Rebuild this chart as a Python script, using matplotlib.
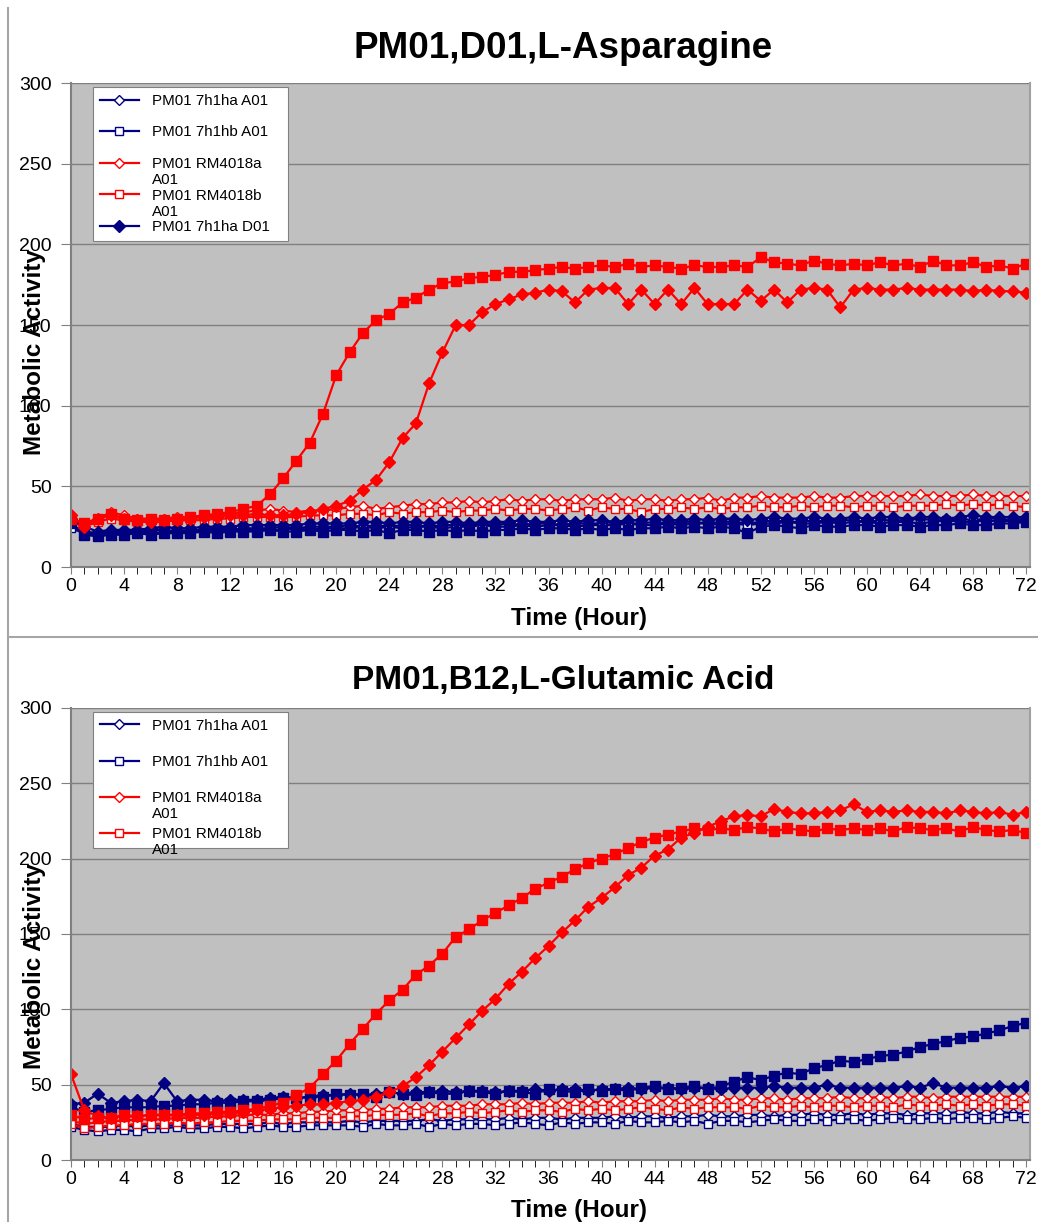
import matplotlib
matplotlib.use("Agg")
import matplotlib.pyplot as plt
from matplotlib.lines import Line2D

plt.rcParams['font.family'] = ['Liberation Sans', 'DejaVu Sans']

# horas de leitura (uma leitura por hora)
horas = list(range(73))

# ---- painel de cima: PM01, D01, L-Asparagine ----
top_7h1ha_A01 = [26, 22, 21, 22, 22, 22, 23, 23, 22, 23,
                 23, 24, 23, 24, 24, 24, 25, 24, 25, 25,
                 25, 26, 25, 26, 25, 26, 26, 25, 26, 26,
                 26, 27, 26, 27, 26, 27, 27, 26, 27, 27,
                 27, 28, 27, 27, 28, 27, 28, 28, 27, 28,
                 28, 27, 28, 29, 28, 28, 29, 28, 29, 29,
                 28, 29, 29, 29, 30, 29, 29, 30, 29, 30,
                 30, 29, 30]
top_7h1hb_A01 = [24, 21, 20, 21, 21, 21, 22, 21, 22, 22,
                 22, 23, 22, 23, 23, 23, 23, 24, 23, 24,
                 24, 24, 25, 24, 25, 24, 25, 25, 24, 25,
                 25, 26, 25, 25, 26, 25, 26, 26, 25, 26,
                 26, 26, 27, 26, 26, 27, 26, 27, 27, 26,
                 27, 26, 27, 27, 28, 27, 27, 28, 27, 28,
                 28, 27, 28, 28, 27, 28, 29, 28, 28, 29,
                 28, 29, 28]
top_RM4018a_A01 = [30, 27, 30, 34, 32, 30, 30, 30, 31, 31,
                   32, 32, 33, 34, 35, 36, 35, 34, 35, 35,
                   36, 37, 38, 36, 37, 38, 39, 39, 40, 40,
                   41, 40, 41, 42, 41, 42, 42, 41, 42, 42,
                   42, 43, 41, 42, 42, 41, 42, 42, 43, 41,
                   43, 43, 44, 43, 43, 43, 44, 43, 43, 44,
                   44, 44, 44, 44, 45, 44, 44, 44, 45, 44,
                   44, 44, 44]
top_RM4018b_A01 = [28, 25, 28, 30, 29, 28, 28, 28, 29, 29,
                   29, 30, 30, 31, 31, 31, 31, 31, 32, 32,
                   32, 33, 33, 32, 34, 33, 34, 34, 35, 34,
                   35, 35, 36, 35, 36, 36, 35, 36, 37, 35,
                   37, 36, 36, 34, 36, 36, 37, 36, 37, 36,
                   37, 37, 38, 37, 37, 38, 37, 38, 38, 37,
                   38, 38, 37, 38, 38, 38, 39, 38, 39, 38,
                   39, 38, 37]
top_7h1ha_D01 = [30, 25, 22, 23, 23, 23, 24, 25, 24, 24,
                 25, 25, 25, 26, 26, 26, 26, 26, 27, 27,
                 27, 27, 28, 28, 27, 28, 28, 27, 28, 28,
                 27, 28, 28, 28, 29, 28, 28, 29, 28, 29,
                 29, 28, 29, 29, 30, 29, 29, 30, 29, 30,
                 30, 29, 30, 31, 30, 30, 31, 30, 30, 31,
                 30, 31, 31, 30, 31, 31, 30, 31, 32, 31,
                 31, 31, 31]
top_7h1hb_D01 = [27, 20, 19, 20, 20, 21, 20, 21, 21, 21,
                 22, 21, 22, 22, 22, 23, 22, 22, 23, 22,
                 23, 23, 22, 23, 21, 23, 23, 22, 23, 22,
                 23, 22, 23, 23, 24, 23, 24, 24, 23, 24,
                 23, 24, 23, 24, 24, 25, 24, 25, 24, 25,
                 24, 21, 25, 26, 25, 24, 26, 25, 25, 26,
                 26, 25, 26, 26, 25, 26, 26, 27, 26, 26,
                 27, 27, 28]
top_RM4018a_D01 = [32, 25, 30, 32, 30, 29, 28, 29, 29, 30,
                   31, 31, 32, 32, 33, 32, 32, 33, 34, 36,
                   38, 41, 48, 54, 65, 80, 89, 114, 133, 150,
                   150, 158, 163, 166, 169, 170, 172, 171, 164, 172,
                   173, 173, 163, 172, 163, 172, 163, 173, 163, 163,
                   163, 172, 165, 172, 164, 172, 173, 172, 161, 172,
                   173, 172, 172, 173, 172, 172, 172, 172, 171, 172,
                   171, 171, 170]
top_RM4018b_D01 = [30, 27, 30, 33, 30, 29, 30, 29, 30, 31,
                   32, 33, 34, 36, 38, 45, 55, 66, 77, 95,
                   119, 133, 145, 153, 157, 164, 167, 172, 176, 177,
                   179, 180, 181, 183, 183, 184, 185, 186, 185, 186,
                   187, 186, 188, 186, 187, 186, 185, 187, 186, 186,
                   187, 186, 192, 189, 188, 187, 190, 188, 187, 188,
                   187, 189, 187, 188, 186, 190, 187, 187, 189, 186,
                   187, 185, 188]

# ---- painel de baixo: PM01, B12, L-Glutamic Acid ----
bot_7h1ha_A01 = [24, 22, 22, 22, 23, 22, 23, 23, 23, 23,
                 23, 24, 24, 24, 24, 25, 24, 25, 25, 25,
                 25, 26, 25, 26, 26, 26, 26, 27, 26, 27,
                 27, 27, 27, 28, 27, 28, 28, 27, 28, 28,
                 28, 29, 28, 29, 29, 28, 29, 29, 30, 29,
                 29, 30, 30, 29, 30, 30, 31, 30, 30, 31,
                 30, 31, 31, 30, 31, 31, 31, 32, 31, 31,
                 32, 31, 31]
bot_7h1hb_A01 = [22, 20, 19, 20, 20, 19, 21, 21, 22, 21,
                 21, 22, 22, 21, 22, 23, 22, 22, 23, 23,
                 23, 23, 22, 24, 23, 23, 24, 22, 24, 23,
                 24, 24, 23, 24, 25, 24, 23, 25, 24, 25,
                 25, 24, 26, 25, 25, 26, 25, 26, 24, 26,
                 26, 25, 26, 27, 26, 26, 27, 26, 27, 27,
                 26, 27, 28, 27, 27, 28, 27, 28, 28, 27,
                 28, 29, 28]
bot_RM4018a_A01 = [26, 24, 25, 26, 26, 27, 27, 27, 28, 28,
                   28, 29, 29, 30, 30, 30, 31, 31, 32, 32,
                   33, 33, 33, 34, 34, 35, 35, 35, 36, 36,
                   36, 37, 37, 37, 38, 37, 38, 38, 38, 39,
                   38, 39, 39, 39, 40, 39, 40, 40, 40, 41,
                   40, 40, 41, 41, 40, 41, 41, 41, 42, 41,
                   41, 42, 41, 42, 42, 41, 42, 42, 42, 42,
                   42, 42, 42]
bot_RM4018b_A01 = [24, 21, 22, 23, 23, 24, 24, 24, 25, 24,
                   25, 25, 26, 26, 26, 27, 27, 27, 28, 28,
                   28, 29, 29, 30, 30, 30, 31, 29, 31, 31,
                   32, 31, 32, 33, 32, 33, 33, 32, 34, 33,
                   34, 33, 34, 35, 34, 33, 35, 34, 35, 35,
                   35, 34, 36, 35, 35, 36, 35, 36, 36, 35,
                   36, 36, 35, 37, 36, 36, 37, 36, 37, 36,
                   37, 37, 36]
bot_7h1ha_B12 = [37, 38, 44, 38, 39, 40, 39, 51, 39, 40,
                 40, 39, 40, 40, 40, 41, 42, 41, 42, 43,
                 43, 44, 43, 44, 45, 44, 45, 45, 46, 45,
                 46, 46, 45, 46, 46, 47, 46, 47, 47, 46,
                 47, 47, 48, 47, 48, 48, 47, 48, 48, 47,
                 48, 48, 48, 49, 48, 48, 48, 50, 48, 48,
                 48, 48, 48, 49, 48, 51, 48, 48, 48, 48,
                 49, 48, 49]
bot_7h1hb_B12 = [35, 32, 33, 34, 35, 35, 35, 36, 36, 37,
                 37, 38, 38, 39, 39, 40, 41, 41, 42, 42,
                 44, 43, 44, 42, 45, 44, 43, 45, 44, 44,
                 46, 45, 44, 46, 45, 44, 47, 46, 45, 47,
                 46, 47, 46, 48, 49, 47, 48, 49, 47, 49,
                 52, 55, 53, 56, 58, 57, 61, 63, 66, 65,
                 67, 69, 70, 72, 75, 77, 79, 81, 82, 84,
                 86, 89, 91]
bot_RM4018a_B12 = [57, 33, 29, 28, 29, 29, 30, 30, 30, 30,
                   30, 31, 31, 32, 33, 34, 35, 36, 37, 37,
                   38, 39, 40, 42, 45, 49, 55, 63, 72, 81,
                   90, 99, 107, 117, 125, 134, 142, 151, 159, 168,
                   174, 181, 189, 194, 202, 206, 214, 217, 221, 225,
                   228, 229, 228, 233, 231, 230, 230, 231, 232, 236,
                   231, 232, 231, 232, 231, 231, 230, 232, 231, 230,
                   231, 229, 231]
bot_RM4018b_B12 = [30, 27, 28, 28, 30, 29, 30, 30, 30, 31,
                   31, 32, 32, 33, 34, 36, 38, 43, 48, 57,
                   66, 77, 87, 97, 106, 113, 123, 129, 137, 148,
                   153, 159, 164, 169, 174, 180, 184, 188, 193, 197,
                   200, 203, 207, 211, 214, 216, 218, 220, 219, 220,
                   219, 221, 220, 218, 220, 219, 218, 220, 219, 220,
                   219, 220, 218, 221, 220, 219, 220, 218, 221, 219,
                   218, 219, 217]

NAVY = '#000080'
RED = '#FF0000'

# (rótulo, valores, cor, marcador, cheio)
series_top = [
    ('PM01 7h1ha A01', top_7h1ha_A01, NAVY, 'D', False),
    ('PM01 7h1hb A01', top_7h1hb_A01, NAVY, 's', False),
    ('PM01 RM4018a\nA01', top_RM4018a_A01, RED, 'D', False),
    ('PM01 RM4018b\nA01', top_RM4018b_A01, RED, 's', False),
    ('PM01 7h1ha D01', top_7h1ha_D01, NAVY, 'D', True),
    ('PM01 7h1hb D01', top_7h1hb_D01, NAVY, 's', True),
    ('PM01 RM4018a D01', top_RM4018a_D01, RED, 'D', True),
    ('PM01 RM4018b D01', top_RM4018b_D01, RED, 's', True),
]
series_bot = [
    ('PM01 7h1ha A01', bot_7h1ha_A01, NAVY, 'D', False),
    ('PM01 7h1hb A01', bot_7h1hb_A01, NAVY, 's', False),
    ('PM01 RM4018a\nA01', bot_RM4018a_A01, RED, 'D', False),
    ('PM01 RM4018b\nA01', bot_RM4018b_A01, RED, 's', False),
    ('PM01 7h1ha B12', bot_7h1ha_B12, NAVY, 'D', True),
    ('PM01 7h1hb B12', bot_7h1hb_B12, NAVY, 's', True),
    ('PM01 RM4018a B12', bot_RM4018a_B12, RED, 'D', True),
    ('PM01 RM4018b B12', bot_RM4018b_B12, RED, 's', True),
]

FS_LEG = 10.9


def desenhar_painel(ax, titulo, fs_titulo, ty, series, n_legenda, espaco,
                    xlab_y, ylab_y, leg_topo):
    ax.set_facecolor('#C0C0C0')
    linhas = []
    for rotulo, valores, cor, marc, cheio in series:
        if cheio:
            tam = 7 if marc == 's' else 6.5
        else:
            tam = 6 if marc == 's' else 5
        ln, = ax.plot(horas, valores, color=cor, lw=1.6, marker=marc, ms=tam,
                      mfc=cor if cheio else 'white', mec=cor, mew=1.0,
                      label=rotulo)
        linhas.append(ln)

    ax.set_xlim(0, 72.3)
    ax.set_ylim(0, 300)
    ax.set_xticks(range(0, 73, 4))
    ax.set_xticks(range(0, 73, 1), minor=True)
    ax.set_yticks(range(0, 301, 50))
    ax.yaxis.grid(True, color='#808080', lw=1.0)
    ax.set_axisbelow(True)
    ax.tick_params(axis='both', labelsize=14, direction='out', color='#808080')
    ax.tick_params(axis='x', which='both', length=5, pad=3)
    ax.tick_params(axis='y', length=7, pad=7)

    for lado in ['left', 'bottom']:
        ax.spines[lado].set_color('#808080')
        ax.spines[lado].set_linewidth(1.5)
    ax.spines['top'].set_visible(False)
    ax.spines['right'].set_color('#A0A0A0')
    ax.spines['right'].set_linewidth(1.5)

    ax.text(0.513, ty, titulo, transform=ax.transAxes, ha='center', va='center',
            fontsize=fs_titulo, fontweight='bold')
    ax.set_xlabel('Time (Hour)', fontsize=17.5, fontweight='bold')
    ax.xaxis.set_label_coords(0.53, xlab_y)
    ax.set_ylabel('Metabolic Activity', fontsize=17.5, fontweight='bold')
    ax.yaxis.set_label_coords(-0.026, ylab_y)

    # legenda ao estilo Excel: só a primeira linha entra no espaçamento
    primeiras = [ln.get_label().split('\n')[0] for ln in linhas[:n_legenda]]
    leg = ax.legend(linhas[:n_legenda], primeiras, loc='upper left',
                    bbox_to_anchor=(0.0229, leg_topo, 0.203, 0.0),
                    mode='expand', borderaxespad=0,
                    fontsize=FS_LEG, fancybox=False, framealpha=1,
                    edgecolor='#808080', handlelength=2.6, handletextpad=0.85,
                    labelspacing=espaco, borderpad=0.45)
    leg.get_frame().set_linewidth(0.8)
    leg.set_zorder(10)
    for ln, txt in zip(linhas[:n_legenda], leg.get_texts()):
        partes = ln.get_label().split('\n')
        if len(partes) > 1:
            ax.annotate(partes[1], xy=(0, 0), xycoords=txt, xytext=(0, -2),
                        textcoords='offset pixels', ha='left', va='top',
                        fontsize=FS_LEG, zorder=11, annotation_clip=False)


fig = plt.figure(figsize=(10.38, 12.22), dpi=100)
ax1 = fig.add_axes([0.0684, 0.536, 0.9239, 0.396])
ax2 = fig.add_axes([0.0684, 0.0507, 0.9239, 0.370])

desenhar_painel(ax1, 'PM01,D01,L-Asparagine', 26.5, 1.072, series_top, 5, 1.16,
                -0.082, 0.445, 0.9917)
desenhar_painel(ax2, 'PM01,B12,L-Glutamic Acid', 24, 1.060, series_bot, 4, 1.46,
                -0.087, 0.43, 0.991)

# linhas de separação cinzentas (moldura das duas imagens)
fig.add_artist(Line2D([8 / 1038, 8 / 1038], [0, 1 - 8 / 1222],
                      transform=fig.transFigure, color='#A6A6A6', lw=1.5))
fig.add_artist(Line2D([8 / 1038, 1], [1 - 637 / 1222, 1 - 637 / 1222],
                      transform=fig.transFigure, color='#A6A6A6', lw=1.5))

fig.savefig('out.png', dpi=100)
